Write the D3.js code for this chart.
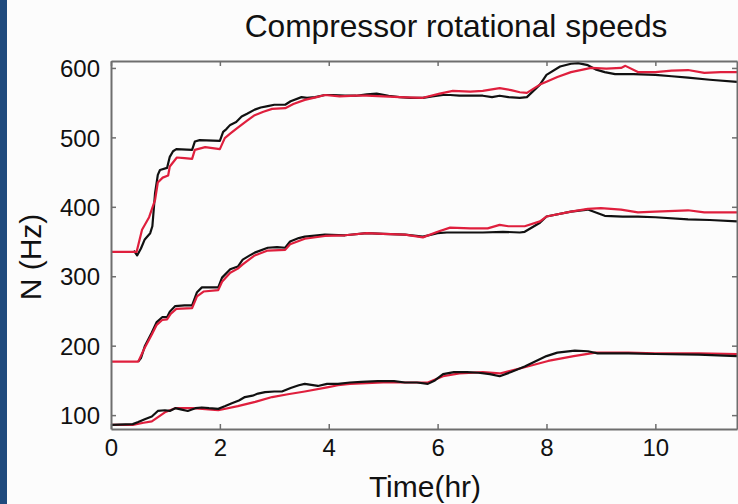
<!DOCTYPE html>
<html>
<head>
<meta charset="utf-8">
<script src="https://cdn.jsdelivr.net/npm/d3@7"></script>
<style>
  body { margin: 0; background: #fcfcfc; }
  svg { display: block; font-family: "Liberation Sans", Arial, sans-serif; }
</style>
</head>
<body>
<div id="chart"></div>
<script>
// time (hr), speed (Hz) pairs
var topMeas = [[0.42,337],[0.48,330],[0.55,340],[0.62,353],[0.72,362],[0.76,372],[0.81,420],[0.86,446],[0.9,453],[1.03,456],[1.08,472],[1.14,480],[1.2,483],[1.49,482],[1.54,494],[1.63,496],[2.0,495],[2.06,508],[2.12,512],[2.19,518],[2.3,522],[2.4,530],[2.5,534],[2.64,540],[2.75,543],[2.88,545],[3.0,547],[3.2,547],[3.3,552],[3.5,558],[3.6,557],[3.75,558],[3.93,561],[4.08,561],[4.3,560],[4.5,560],[4.7,562],[4.88,563],[5.1,560],[5.3,558],[5.5,557],[5.73,557],[5.9,559],[6.1,561],[6.23,561],[6.4,560],[6.6,560],[6.83,560],[7.0,558],[7.14,560],[7.3,558],[7.51,557],[7.64,558],[7.88,576],[8.0,590],[8.25,602],[8.45,606],[8.58,607],[8.76,604],[8.9,598],[9.07,594],[9.26,591],[9.6,591],[10.0,590],[10.3,588],[10.6,586],[11.0,583],[11.5,580]];
var topModel = [[0,335],[0.47,335],[0.57,367],[0.7,385],[0.81,410],[0.86,435],[0.95,442],[1.05,445],[1.08,458],[1.21,471],[1.35,470],[1.49,469],[1.54,482],[1.73,486],[2.0,483],[2.09,499],[2.2,506],[2.33,514],[2.5,524],[2.64,532],[2.8,537],[2.96,541],[3.2,542],[3.35,548],[3.56,554],[3.78,558],[3.93,561],[4.2,559],[4.5,560],[4.7,560],[5.0,559],[5.3,558],[5.73,557],[6.04,563],[6.28,567],[6.6,566],[6.83,567],[7.14,571],[7.35,568],[7.51,565],[7.64,564],[7.88,576],[8.0,580],[8.2,587],[8.45,594],[8.82,600],[9.1,599],[9.37,600],[9.45,603],[9.68,594],[10.0,594],[10.3,596],[10.6,597],[10.9,593],[11.2,594],[11.5,594]];
var midMeas = [[0.5,177],[0.55,182],[0.62,199],[0.75,219],[0.84,234],[0.94,241],[1.03,241],[1.08,249],[1.18,257],[1.35,258],[1.49,258],[1.58,277],[1.67,284],[1.97,284],[2.04,298],[2.19,310],[2.33,314],[2.42,324],[2.55,330],[2.64,334],[2.88,341],[3.05,342],[3.2,341],[3.29,350],[3.45,355],[3.56,357],[3.93,360],[4.3,359],[4.7,362],[5.0,361],[5.4,360],[5.73,357],[6.0,362],[6.17,363],[6.5,363],[6.83,363],[7.2,364],[7.51,363],[7.6,364],[7.88,377],[8.0,386],[8.45,393],[8.76,396],[9.07,387],[9.4,386],[9.68,386],[10.0,385],[10.6,382],[11.0,381],[11.5,379]];
var midModel = [[0,177],[0.5,177],[0.62,197],[0.75,216],[0.84,230],[0.94,237],[1.03,238],[1.1,246],[1.2,253],[1.49,254],[1.58,271],[1.7,278],[1.97,280],[2.04,292],[2.19,305],[2.33,311],[2.42,317],[2.64,330],[2.88,337],[3.2,338],[3.29,346],[3.56,354],[3.93,358],[4.3,359],[4.7,362],[5.0,361],[5.4,360],[5.73,356],[6.0,364],[6.23,370],[6.6,369],[6.92,369],[7.14,374],[7.3,372],[7.6,372],[7.88,379],[8.0,386],[8.45,393],[8.76,397],[9.0,398],[9.37,396],[9.68,392],[10.0,393],[10.6,395],[10.9,392],[11.5,392]];
var botMeas = [[0,86],[0.4,87],[0.5,90],[0.62,94],[0.75,98],[0.86,106],[0.99,107],[1.08,106],[1.18,110],[1.3,108],[1.41,106],[1.55,110],[1.67,111],[1.8,110],[1.97,109],[2.1,113],[2.22,117],[2.35,121],[2.46,126],[2.6,128],[2.7,131],[2.83,133],[3.0,134],[3.14,134],[3.3,139],[3.45,143],[3.56,145],[3.8,142],[3.97,145],[4.17,145],[4.39,147],[4.6,148],[4.9,149],[5.2,149],[5.4,147],[5.62,147],[5.82,145],[5.95,150],[6.1,159],[6.3,162],[6.54,162],[6.75,161],[6.96,159],[7.14,156],[7.35,162],[7.6,170],[8.0,185],[8.2,190],[8.52,193],[8.76,192],[8.94,189],[9.5,189],[10.0,188],[10.8,187],[11.5,185]];
var botModel = [[0,86],[0.4,86],[0.6,89],[0.75,91],[0.99,104],[1.18,110],[1.5,110],[1.97,107],[2.33,113],[2.65,119],[2.96,126],[3.25,130],[3.56,134],[3.97,140],[4.17,143],[4.39,145],[5.0,147],[5.5,147],[5.82,147],[6.1,156],[6.4,160],[6.83,162],[7.14,160],[7.3,163],[7.6,169],[8.03,178],[8.5,185],[8.9,190],[9.5,190],[10.0,189],[10.8,189],[11.5,188]];

var xTicks = [0, 2, 4, 6, 8, 10];
var yTicks = [100, 200, 300, 400, 500, 600];

var W = 738, H = 504;
var margin = { top: 61, right: 1, bottom: 75, left: 111 },
  width = W - margin.left - margin.right,
  height = H - margin.top - margin.bottom;

var svg = d3.select("#chart").append("svg")
  .attr("width", W)
  .attr("height", H);

svg.append("rect").attr("width", W).attr("height", H).attr("fill", "#fcfcfc");
// blue slide edge on the left
svg.append("rect").attr("x", 0).attr("y", 0).attr("width", 7).attr("height", H).attr("fill", "#1f4a7d");

var g = svg.append("g")
  .attr("transform", "translate(" + margin.left + "," + margin.top + ")");

var x = d3.scaleLinear().domain([0, 11.5]).range([0, width]);
var y = d3.scaleLinear().domain([80, 610]).range([height, 0]);

var line = d3.line()
  .x(function (d) { return x(d[0]); })
  .y(function (d) { return y(d[1]); });

var series = [
  { data: botModel, color: "#df1f3d" },
  { data: botMeas, color: "#111" },
  { data: midMeas, color: "#111" },
  { data: midModel, color: "#df1f3d" },
  { data: topMeas, color: "#111" },
  { data: topModel, color: "#df1f3d" }
];

g.selectAll(".curve")
  .data(series)
  .enter().append("path")
  .attr("class", "curve")
  .attr("d", function (d) { return line(d.data); })
  .attr("fill", "none")
  .attr("stroke", function (d) { return d.color; })
  .attr("stroke-width", 2.2)
  .attr("stroke-linejoin", "round");

// axes, ticks pointing inward (box style)
var axisColor = "#6e6e6e";

var xAxis = d3.axisBottom(x).tickValues(xTicks).tickSizeInner(-5).tickSizeOuter(0).tickPadding(10);
var yAxis = d3.axisLeft(y).tickValues(yTicks).tickSizeInner(-5).tickSizeOuter(0).tickPadding(11);

var gx = g.append("g")
  .attr("transform", "translate(0," + height + ")")
  .call(xAxis);
var gy = g.append("g").call(yAxis);
var gt = g.append("g").call(d3.axisTop(x).tickValues(xTicks).tickSizeInner(-5).tickSizeOuter(0).tickFormat(""));
var gr = g.append("g").attr("transform", "translate(" + width + ",0)")
  .call(d3.axisRight(y).tickValues(yTicks).tickSizeInner(-5).tickSizeOuter(0).tickFormat(""));

[gx, gy, gt, gr].forEach(function (a) {
  a.select(".domain").attr("stroke", axisColor).attr("stroke-width", 2);
  a.selectAll(".tick line").attr("stroke", axisColor).attr("stroke-width", 1.5);
  a.selectAll("text")
    .attr("fill", "#111")
    .style("font-size", "24px")
    .style("font-family", "'Liberation Sans', Arial, sans-serif");
});
gy.selectAll("text").attr("dy", "0.36em");

svg.append("text")
  .attr("x", 456)
  .attr("y", 37)
  .attr("text-anchor", "middle")
  .attr("fill", "#111")
  .style("font-size", "31.7px")
  .text("Compressor rotational speeds");

svg.append("text")
  .attr("x", 425)
  .attr("y", 497)
  .attr("text-anchor", "middle")
  .attr("fill", "#111")
  .style("font-size", "30px")
  .text("Time(hr)");

svg.append("text")
  .attr("transform", "translate(41,257) rotate(-90)")
  .attr("text-anchor", "middle")
  .attr("fill", "#111")
  .style("font-size", "30px")
  .text("N (Hz)");
</script>
</body>
</html>
